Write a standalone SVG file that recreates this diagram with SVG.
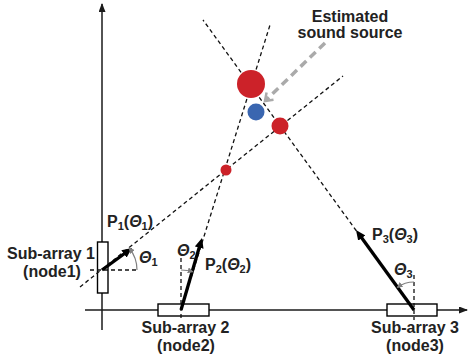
<svg xmlns="http://www.w3.org/2000/svg" width="468" height="360" viewBox="0 0 468 360">
<defs>
<style>
.axis{stroke:#1a1a1a;stroke-width:1.5;fill:none}
.arr{stroke:#000;stroke-width:3.3;fill:none}
.dash{stroke:#111;stroke-width:1.3;stroke-dasharray:4 3;fill:none}
.box{fill:#fff;stroke:#000;stroke-width:1.4}
.ang{stroke:#808080;stroke-width:1.2;fill:none}
.lbl{font-family:"Liberation Sans",Arial,sans-serif;font-weight:bold;font-size:16px;fill:#222}
.th{font-style:italic}
.sub{font-size:11px}
.red{fill:#cc2229}
.blue{fill:#3a66b0}
</style>
<marker id="ah" markerUnits="userSpaceOnUse" markerWidth="11" markerHeight="9" refX="5" refY="4.5" orient="auto">
<path d="M0,0 L10,4.5 L0,9 z" fill="#000"/>
</marker>
<marker id="axh" markerUnits="userSpaceOnUse" markerWidth="9" markerHeight="7" refX="8" refY="3.5" orient="auto">
<path d="M0,0 L9,3.5 L0,7 z" fill="#1a1a1a"/>
</marker>
<marker id="gh" markerUnits="userSpaceOnUse" markerWidth="6" markerHeight="6" refX="5" refY="3" orient="auto">
<path d="M0,0 L6,3 L0,6 z" fill="#808080"/>
</marker>
<marker id="dh" markerUnits="userSpaceOnUse" markerWidth="12" markerHeight="12" refX="8" refY="6" orient="auto">
<path d="M1,1 L8,6 L1,11" fill="none" stroke="#aaa" stroke-width="2.5"/>
</marker>
</defs>

<g id="axes">
<line class="axis" x1="102" y1="330" x2="102" y2="4" marker-end="url(#axh)"/>
<line class="axis" x1="85" y1="310" x2="467" y2="310" marker-end="url(#axh)"/>
</g>

<g id="node1">
<rect class="box" x="97.5" y="242" width="10.5" height="51"/>
<text class="lbl" x="51" y="259" text-anchor="middle">Sub-array 1</text>
<text class="lbl" x="52" y="277" text-anchor="middle">(node1)</text>
</g>
<g id="node2">
<rect class="box" x="158" y="304" width="51" height="12"/>
<text class="lbl" x="185.5" y="333" text-anchor="middle">Sub-array 2</text>
<text class="lbl" x="186" y="351" text-anchor="middle">(node2)</text>
</g>
<g id="node3">
<rect class="box" x="387" y="304" width="50" height="12"/>
<text class="lbl" x="415" y="333" text-anchor="middle">Sub-array 3</text>
<text class="lbl" x="415" y="351" text-anchor="middle">(node3)</text>
</g>

<g id="connectors">
<line class="dash" x1="80" y1="287" x2="343" y2="76"/>
<line class="dash" x1="181" y1="310" x2="270" y2="25"/>
<line class="dash" x1="414" y1="310" x2="203" y2="20"/>
<line class="dash" x1="90" y1="270" x2="137" y2="270"/>
<line class="dash" x1="181" y1="258" x2="181" y2="318"/>
<line class="dash" x1="414" y1="275" x2="414" y2="320"/>
<line class="arr" x1="102" y1="270" x2="128" y2="251" marker-end="url(#ah)"/>
<line class="arr" x1="181" y1="310" x2="200.6" y2="242.8" marker-end="url(#ah)"/>
<line class="arr" x1="414" y1="310" x2="358.9" y2="234" marker-end="url(#ah)"/>
<path class="ang" d="M137,270 A35,35 0 0 0 129.3,248.1" marker-end="url(#gh)"/>
<path class="ang" d="M181,270 A40,40 0 0 1 192.7,271.7" marker-end="url(#gh)"/>
<path class="ang" d="M414,282 A28,28 0 0 0 397.5,287.3" marker-end="url(#gh)"/>
<line x1="325" y1="43" x2="265" y2="101" stroke="#aaa" stroke-width="3.5" stroke-dasharray="8 5" marker-end="url(#dh)"/>
</g>

<g id="estimates">
<circle class="red" cx="251" cy="84" r="14"/>
<circle class="blue" cx="256" cy="112" r="8.5"/>
<circle class="red" cx="280" cy="126" r="8.5"/>
<circle class="red" cx="226" cy="170" r="5.5"/>
</g>

<g id="labels">
<text class="lbl" x="350" y="22" text-anchor="middle">Estimated</text>
<text class="lbl" x="350" y="38" text-anchor="middle">sound source</text>
<text class="lbl" x="107" y="227">P<tspan class="sub" dy="3">1</tspan><tspan dy="-3">(</tspan><tspan class="th">Θ</tspan><tspan class="sub" dy="3">1</tspan><tspan dy="-3">)</tspan></text>
<text class="lbl" x="139" y="263"><tspan class="th">Θ</tspan><tspan class="sub" dy="3">1</tspan></text>
<text class="lbl" x="177" y="256"><tspan class="th">Θ</tspan><tspan class="sub" dy="3">2</tspan></text>
<text class="lbl" x="205" y="270">P<tspan class="sub" dy="3">2</tspan><tspan dy="-3">(</tspan><tspan class="th">Θ</tspan><tspan class="sub" dy="3">2</tspan><tspan dy="-3">)</tspan></text>
<text class="lbl" x="372" y="240">P<tspan class="sub" dy="3">3</tspan><tspan dy="-3">(</tspan><tspan class="th">Θ</tspan><tspan class="sub" dy="3">3</tspan><tspan dy="-3">)</tspan></text>
<text class="lbl" x="394" y="275"><tspan class="th">Θ</tspan><tspan class="sub" dy="3">3</tspan></text>
</g>
</svg>
